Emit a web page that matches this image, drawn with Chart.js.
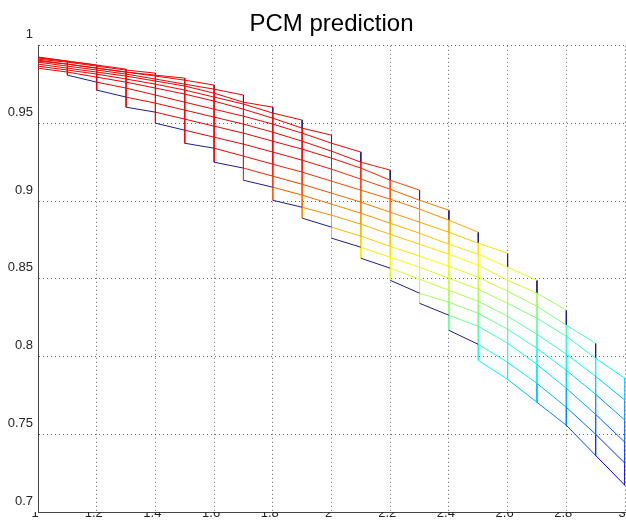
<!DOCTYPE html>
<html>
<head>
<meta charset="utf-8">
<script src="https://cdn.jsdelivr.net/npm/chart.js@4.4.1/dist/chart.umd.min.js"></script>
<style>
  html, body { margin: 0; padding: 0; background: #fff; }
  #wrap { width: 626px; height: 523px; }
</style>
</head>
<body>
<div id="wrap"><canvas id="pcm"></canvas></div>
<script>
// x positions of the mesh columns
const colX = [1.0, 1.1, 1.2, 1.3, 1.4, 1.5, 1.6, 1.7, 1.8, 1.9, 2.0,
              2.1, 2.2, 2.3, 2.4, 2.5, 2.6, 2.7, 2.8, 2.9, 3.0];
const xTicks = [1, 1.2, 1.4, 1.6, 1.8, 2, 2.2, 2.4, 2.6, 2.8, 3];
const yTicks = [0.7, 0.75, 0.8, 0.85, 0.9, 0.95, 1];

// column index of the first visible value of each prediction run
const startCol = [0, 0, 0, 0, 0, 0, 0, 0, 0, 0,
                  1, 2, 3, 4, 5, 6, 7, 8, 9, 10, 11, 12, 13, 14, 15];

// one prediction run per row, values at consecutive columns
const predictions = [
    [0.9927, 0.9901],
    [0.9927, 0.9901, 0.9876],
    [0.9921, 0.9901, 0.9876, 0.9850],
    [0.9914, 0.9895, 0.9869, 0.9844, 0.9824],
    [0.9908, 0.9882, 0.9856, 0.9831, 0.9811, 0.9792],
    [0.9901, 0.9882, 0.9856, 0.9831, 0.9805, 0.9779, 0.9747],
    [0.9895, 0.9869, 0.9844, 0.9818, 0.9786, 0.9753, 0.9721, 0.9683],
    [0.9882, 0.9856, 0.9831, 0.9805, 0.9773, 0.9741, 0.9695, 0.9637, 0.9605],
    [0.9869, 0.9844, 0.9818, 0.9786, 0.9753, 0.9715, 0.9670, 0.9625, 0.9567, 0.9522],
    [0.9856, 0.9831, 0.9798, 0.9766, 0.9728, 0.9689, 0.9644, 0.9592, 0.9534, 0.9470, 0.9425],
    [0.9811, 0.9766, 0.9728, 0.9683, 0.9637, 0.9592, 0.9547, 0.9496, 0.9438, 0.9373, 0.9316],
    [0.9715, 0.9670, 0.9631, 0.9586, 0.9541, 0.9496, 0.9444, 0.9386, 0.9322, 0.9251, 0.9200],
    [0.9605, 0.9573, 0.9528, 0.9483, 0.9438, 0.9386, 0.9335, 0.9277, 0.9213, 0.9135, 0.9071],
    [0.9502, 0.9457, 0.9412, 0.9367, 0.9316, 0.9264, 0.9206, 0.9142, 0.9077, 0.9006, 0.8942],
    [0.9373, 0.9341, 0.9290, 0.9238, 0.9187, 0.9129, 0.9071, 0.9013, 0.8949, 0.8878, 0.8800],
    [0.9251, 0.9213, 0.9161, 0.9109, 0.9052, 0.8994, 0.8929, 0.8865, 0.8800, 0.8730, 0.8665],
    [0.9135, 0.9090, 0.9039, 0.8981, 0.8923, 0.8858, 0.8794, 0.8723, 0.8659, 0.8575, 0.8491],
    [0.9006, 0.8961, 0.8910, 0.8852, 0.8787, 0.8723, 0.8659, 0.8588, 0.8491, 0.8408, 0.8298],
    [0.8891, 0.8833, 0.8775, 0.8710, 0.8646, 0.8581, 0.8511, 0.8420, 0.8324, 0.8202, 0.8086],
    [0.8762, 0.8704, 0.8639, 0.8575, 0.8504, 0.8433, 0.8343, 0.8247, 0.8131, 0.7989, 0.7860],
    [0.8633, 0.8569, 0.8498, 0.8427, 0.8356, 0.8259, 0.8144, 0.8015, 0.7873, 0.7719],
    [0.8491, 0.8408, 0.8350, 0.8279, 0.8176, 0.8053, 0.7912, 0.7757, 0.7590],
    [0.8343, 0.8266, 0.8195, 0.8086, 0.7950, 0.7796, 0.7628, 0.7448],
    [0.8169, 0.8079, 0.7963, 0.7828, 0.7674, 0.7500, 0.7313],
    [0.7976, 0.7854, 0.7706, 0.7558, 0.7364, 0.7171],
];

const FONT = "'Liberation Sans', Arial, sans-serif";
const EDGE = '#1e1e8c';
const EDGE_TOP = '#9a1010';

// matlab jet colormap, clim, top end kept red
function jet(v) {
    const t = Math.min(0.88, Math.max(0, (v - 0.694) / 0.268));
    const c = (d) => Math.round(255 * Math.min(1, Math.max(0, 1.5 - Math.abs(4 * t - d))));
    return 'rgb(' + c(3) + ',' + c(2) + ',' + c(1) + ')';
}

const datasets = [];
const edgeSeg = [];   // segment index drawn in an edge colour, -1 = none
const edgeCol = [];

predictions.forEach((vals, i) => {
    const s = startCol[i];
    datasets.push({ data: vals.map((v, j) => ({ x: colX[s + j], y: v })) });
    edgeSeg.push(s > 0 && s < 15 ? 0 : -1);
    edgeCol.push(EDGE);
});

// vertical mesh lines through every column
for (let k = 1; k < colX.length; k++) {
    const pts = [];
    let ends = false;
    predictions.forEach((vals, i) => {
        const j = k - startCol[i];
        if (j >= 0 && j < vals.length) {
            if (!pts.length && j === vals.length - 1) ends = true;
            pts.push({ x: colX[k], y: vals[j] });
        }
    });
    datasets.push({ data: pts });
    edgeSeg.push(ends && k <= 19 ? 0 : -1);
    edgeCol.push(k >= 7 ? EDGE : EDGE_TOP);
}

datasets.forEach((d) => {
    d.borderWidth = 1;
    d.pointRadius = 0;
    d.fill = false;
    d.tension = 0;
    d.borderColor = '#888';
    d.segment = {
        borderColor: (ctx) => edgeSeg[ctx.datasetIndex] === ctx.p0DataIndex
            ? edgeCol[ctx.datasetIndex] : jet((ctx.p0.parsed.y + ctx.p1.parsed.y) / 2),
    };
});

const fmt = (v) => String(+v.toFixed(2));

new Chart(document.getElementById('pcm'), {
    type: 'line',
    data: { datasets },
    options: {
        responsive: true,
        maintainAspectRatio: false,
        animation: false,
        events: [],
        layout: { padding: { left: 0, right: 1, top: 0, bottom: 0 } },
        plugins: {
            legend: { display: false },
            tooltip: { enabled: false },
            title: {
                display: true, text: 'PCM prediction', fullSize: false, color: '#000',
                font: { family: FONT, size: 24, weight: 'normal' },
                padding: { top: 10, bottom: 7 },
            },
        },
        scales: {
            x: {
                type: 'linear', min: 1, max: 3,
                afterBuildTicks: (s) => { s.ticks = xTicks.map((v) => ({ value: v })); },
                afterFit: (s) => { s.height = 11; s.paddingLeft = 0; s.paddingRight = 0; },
                grid: { color: 'rgba(0,0,0,0.6)', drawTicks: false },
                border: { display: true, color: '#444', dash: [1, 3] },
                ticks: {
                    padding: -6, labelOffset: -3, autoSkip: false, maxRotation: 0, color: '#262626',
                    font: { family: FONT, size: 13 }, callback: fmt,
                },
            },
            y: {
                type: 'linear', min: 0.7, max: 1,
                afterBuildTicks: (s) => { s.ticks = yTicks.map((v) => ({ value: v })); },
                afterFit: (s) => { s.width = 38; s.paddingTop = 0; s.paddingBottom = 0; },
                grid: { color: 'rgba(0,0,0,0.6)', drawTicks: false },
                border: { display: true, color: '#444', dash: [1, 3] },
                ticks: {
                    padding: 5, labelOffset: -11, autoSkip: false, color: '#262626',
                    font: { family: FONT, size: 13 }, callback: fmt,
                },
            },
        },
    },
});
</script>
</body>
</html>
